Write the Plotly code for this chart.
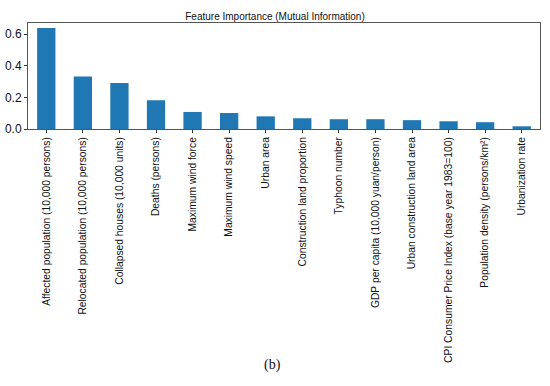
import plotly.graph_objects as go

features = [
    "Affected population (10,000 persons)",
    "Relocated population (10,000 persons)",
    "Collapsed houses (10,000 units)",
    "Deaths (persons)",
    "Maximum wind force",
    "Maximum wind speed",
    "Urban area",
    "Construction land proportion",
    "Typhoon number",
    "GDP per capita (10,000 yuan/person)",
    "Urban construction land area",
    "CPI Consumer Price Index (base year 1983=100)",
    "Population density (persons/km²)",
    "Urbanization rate",
]
importance = [0.640, 0.333, 0.291, 0.182, 0.108, 0.101, 0.080, 0.068, 0.062, 0.062, 0.056, 0.049, 0.043, 0.017]
y_ticks = [0.0, 0.2, 0.4, 0.6]

fig = go.Figure(go.Bar(
    x=list(range(len(features))), y=importance, width=0.5,
    marker=dict(color="#1f77b4", line=dict(width=0)),
))

fig.update_layout(
    width=550, height=386,
    margin=dict(l=28, r=10, t=23, b=257, autoexpand=False),
    paper_bgcolor="white", plot_bgcolor="white",
    font=dict(family="Liberation Sans, Arial, sans-serif", color="#222"),
    showlegend=False,
    title=dict(text="Feature Importance (Mutual Information)", x=0.5, xanchor="center",
               y=1 - 16/386, yanchor="middle", font=dict(size=10, color="#111")),
)
fig.update_xaxes(
    automargin=False,
    range=[-0.5, len(features) - 0.5],
    tickmode="array", tickvals=list(range(len(features))), ticktext=features,
    tickangle=-90, tickfont=dict(size=10.3, color="#111"),
    ticks="outside", ticklen=3, tickcolor="#333",
    showline=True, linecolor="#555", linewidth=1, mirror=True,
    showgrid=False, zeroline=False,
)
fig.update_yaxes(
    automargin=False,
    range=[0, 0.671],
    tickmode="array", tickvals=y_ticks, ticktext=[f"{v:.1f}" for v in y_ticks],
    tickfont=dict(size=12, color="#111"),
    ticks="outside", ticklen=3, tickcolor="#333",
    showline=True, linecolor="#555", linewidth=1, mirror=True,
    showgrid=False, zeroline=False,
)
fig.add_annotation(
    text="(b)", x=(272 - 28) / 512, xref="paper", y=(129 - 375) / 106, yref="paper",
    showarrow=False, font=dict(family="Liberation Serif, serif", size=14, color="#111"),
)
fig.write_html("out.html", config={"displayModeBar": False},
               post_script="document.body.style.margin='0';")
